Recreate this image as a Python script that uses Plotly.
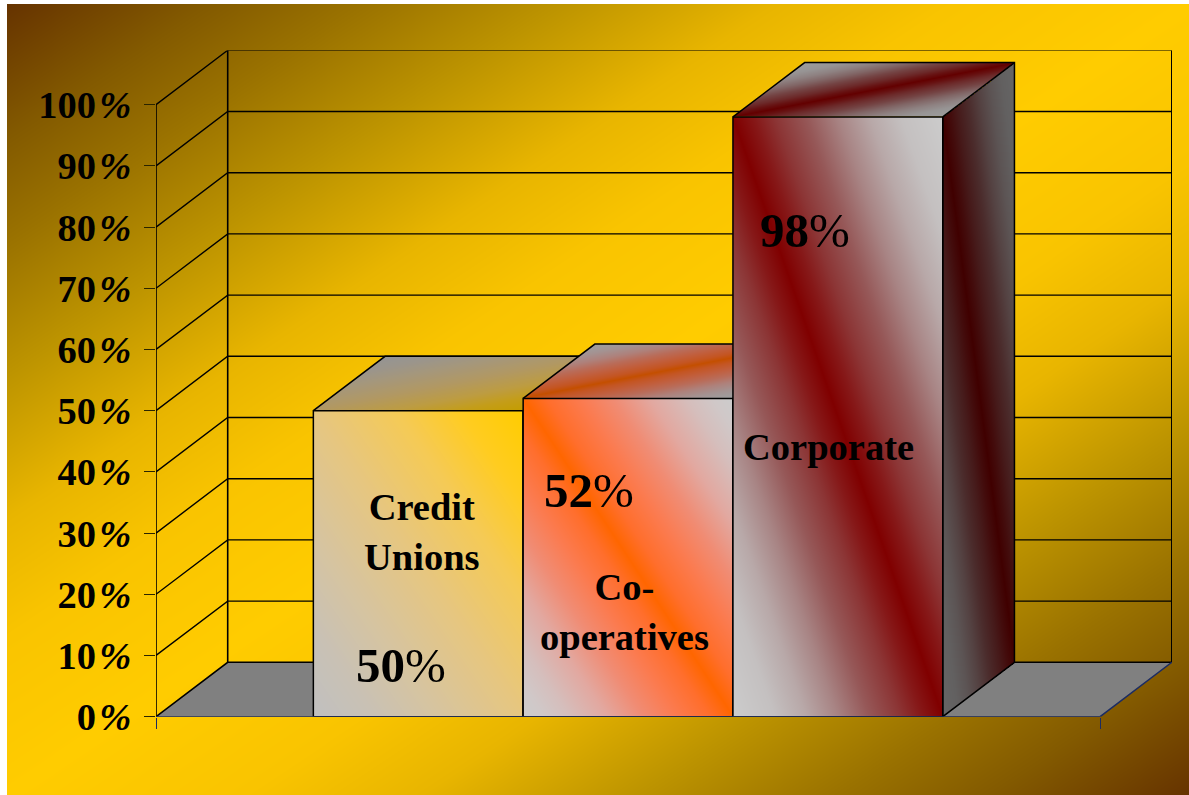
import numpy as np
import plotly.graph_objects as go

# Chart content
SERIES = ["Credit<br>Unions", "Co-<br>operatives", "Corporate"]
VALUES = [50, 52, 98]
TICK_VALUES = [0, 10, 20, 30, 40, 50, 60, 70, 80, 90, 100]

# Page and plot geometry
W, H = 1189, 795
PLOT_L, PLOT_R, PLOT_T, PLOT_B = 156.0, 1172.0, 50.5, 716.7
BAR_PX = 209.8           # one x unit is one bar width
PCT_PX = 6.12            # pixels per percentage point
GAP = 0.75               # half of the 150% gap width
DEPTH_X = 71.7 / BAR_PX  # receding offset of the 3D box
DEPTH_Y = 54.4 / PCT_PX
X_END = GAP * 2 + len(VALUES)
INK = "#000000"
NAVY = "#1c2c62"
SERIF = "Liberation Serif"

# Front-face colour ramps as (position, colour); top and side faces are darker copies
CREDIT_RAMP = [(0, "#ffcc00"), (0.15, "#ffcc20"), (0.3, "#f5ca55"), (0.5, "#e6c680"),
               (0.7, "#d6c4a0"), (0.85, "#c9c1b4"), (1, "#c0c0c0")]
COOP_RAMP = [(0, "#ff6600"), (0.11, "#ff6e2c"), (0.27, "#fb7b50"), (0.43, "#f08c74"),
             (0.6, "#e2a8a0"), (0.78, "#d5bebc"), (0.9, "#d0c8c8"), (1, "#cccccc")]
CORP_RAMP = [(0, "#800000"), (0.1, "#861818"), (0.2, "#8c3535"), (0.35, "#965858"),
             (0.5, "#a88484"), (0.65, "#b8a8a8"), (0.8, "#c4c0c0"), (1, "#cccccc")]
FACE_STYLES = [("blend", CREDIT_RAMP), ("band", COOP_RAMP), ("band", CORP_RAMP)]
TOP_SHADE = 0.77
SIDE_SHADE = 0.5


def darker(stops, factor):
    out = []
    for p, c in stops:
        rgb = [int(c[k:k + 2], 16) * factor for k in (1, 3, 5)]
        out.append([p, f"rgb({rgb[0]:.0f},{rgb[1]:.0f},{rgb[2]:.0f})"])
    return out


def pixel_grid(x_lo, x_hi, y_lo, y_hi):
    """Cell centres in data units, roughly one cell per screen pixel."""
    nx = int(round((x_hi - x_lo) * BAR_PX))
    ny = int(round((y_hi - y_lo) * PCT_PX))
    xs = x_lo + (np.arange(nx) + 0.5) * (x_hi - x_lo) / nx
    ys = y_lo + (np.arange(ny) + 0.5) * (y_hi - y_lo) / ny
    return xs, ys


def shade(kind, u, v):
    """Diagonal fill parameter on a face; u runs left-right, v runs top-bottom."""
    t = np.abs(u - v) if kind == "band" else (1 - u + v) / 2
    return np.where((u < 0) | (u > 1) | (v < 0) | (v > 1), np.nan, t)


def face(xs, ys, z, colours, axes):
    return go.Heatmap(
        x=xs, y=ys, z=z, zmin=0, zmax=1, zsmooth=False, showscale=False, hoverinfo="skip",
        colorscale=colours, xaxis=axes[0], yaxis=axes[1],
    )


def polyline(xs, ys, axes, color=INK, width=1.4, fill=None):
    return go.Scatter(
        x=xs, y=ys, mode="lines", line=dict(color=color, width=width), hoverinfo="skip",
        showlegend=False, cliponaxis=False, xaxis=axes[0], yaxis=axes[1],
        fill="toself" if fill else None, fillcolor=fill,
    )


fig = go.Figure()

# Page background: brown corners running into a yellow diagonal
bg_x = np.linspace(0, 1, 240)
bg_y = np.linspace(0, 1, 160)
bg_z = np.abs(bg_x[None, :] + (1 - bg_y[:, None]) - 1)
fig.add_trace(go.Heatmap(
    x=bg_x, y=bg_y, z=bg_z, zmin=0, zmax=1, zsmooth="best", showscale=False, hoverinfo="skip",
    colorscale=[[0, "#ffcc00"], [0.2, "#f9c400"], [0.35, "#e8b500"], [0.53, "#bd9400"],
                [0.7, "#9a7200"], [0.83, "#835a00"], [1, "#663300"]],
    xaxis="x", yaxis="y",
))

# Walls and floor
walls = ("x2", "y2")
fig.add_trace(polyline(
    [0, DEPTH_X, X_END + DEPTH_X, X_END, 0], [0, DEPTH_Y, DEPTH_Y, 0, 0], walls,
    color="#808080", width=0.1, fill="#808080",
))
for v in TICK_VALUES[1:]:
    fig.add_trace(polyline([0, DEPTH_X, X_END + DEPTH_X], [v, v + DEPTH_Y, v + DEPTH_Y], walls))
fig.add_trace(polyline([0, DEPTH_X, X_END + DEPTH_X], [0, DEPTH_Y, DEPTH_Y], walls, width=1.6))
fig.add_trace(polyline([DEPTH_X, DEPTH_X], [DEPTH_Y, 100 + DEPTH_Y], walls, width=1.6))
fig.add_trace(polyline([X_END + DEPTH_X, X_END + DEPTH_X], [DEPTH_Y, 100 + DEPTH_Y], walls, width=1.6))
fig.add_trace(polyline([0, 0], [0, 100], walls, width=1.6))

# Boxes, each on its own overlaid axes so the later box hides the earlier one
for i, (value, (kind, stops)) in enumerate(zip(VALUES, FACE_STYLES)):
    axes = (f"x{i + 3}", f"y{i + 3}")
    x0 = GAP + i
    x1 = x0 + 1

    xs, ys = pixel_grid(x0, x1, 0, value)
    X, Y = np.meshgrid(xs, ys)
    fig.add_trace(face(xs, ys, shade(kind, (X - x0) / (x1 - x0), (value - Y) / value),
                       darker(stops, 1), axes))

    xs, ys = pixel_grid(x1, x1 + DEPTH_X, 0, value + DEPTH_Y)
    X, Y = np.meshgrid(xs, ys)
    u = (X - x1) / DEPTH_X
    fig.add_trace(face(xs, ys, shade(kind, u, (value + DEPTH_Y * u - Y) / value),
                       darker(stops, SIDE_SHADE), axes))

    xs, ys = pixel_grid(x0, x1 + DEPTH_X, value, value + DEPTH_Y)
    X, Y = np.meshgrid(xs, ys)
    w = (Y - value) / DEPTH_Y
    fig.add_trace(face(xs, ys, shade(kind, X - x0 - DEPTH_X * w, w), darker(stops, TOP_SHADE), axes))

    fig.add_trace(polyline([x0, x0, x1, x1, x0], [0, value, value, 0, 0], axes, width=1.5))
    fig.add_trace(polyline(
        [x0, x0 + DEPTH_X, x1 + DEPTH_X, x1 + DEPTH_X, x1, x1],
        [value, value + DEPTH_Y, value + DEPTH_Y, DEPTH_Y, 0, value], axes, width=1.5,
    ))
    fig.add_trace(polyline([x1, x1 + DEPTH_X], [value, value + DEPTH_Y], axes, width=1.5))

# Front edge of the floor, drawn over the boxes
top_axes = (f"x{len(VALUES) + 2}", f"y{len(VALUES) + 2}")
fig.add_trace(polyline([0, X_END, X_END + DEPTH_X], [0, 0, DEPTH_Y], top_axes, color=NAVY, width=1.5))

# Axes
x_domain = [PLOT_L / W, PLOT_R / W]
y_domain = [1 - PLOT_B / H, 1 - PLOT_T / H]
x_range = [0, (PLOT_R - PLOT_L) / BAR_PX]
y_range = [0, (PLOT_B - PLOT_T) / PCT_PX]

layout = dict(
    width=W, height=H, autosize=False, margin=dict(l=0, r=0, t=0, b=0, pad=0),
    paper_bgcolor="#ffffff", plot_bgcolor="rgba(0,0,0,0)", showlegend=False,
    xaxis=dict(domain=[7 / W, 1], range=[0, 1], visible=False, fixedrange=True, automargin=False),
    yaxis=dict(domain=[0, 1 - 4 / H], range=[0, 1], visible=False, fixedrange=True, automargin=False),
    xaxis2=dict(
        domain=x_domain, range=x_range, anchor="y2", showgrid=False, zeroline=False, showline=False,
        tickmode="array", tickvals=[0, X_END], ticktext=["", ""], ticks="outside", ticklen=11,
        tickwidth=1.2, tickcolor=NAVY, fixedrange=True, automargin=False,
    ),
    yaxis2=dict(
        domain=y_domain, range=y_range, anchor="x2", showgrid=False, zeroline=False, showline=False,
        tickmode="array", tickvals=TICK_VALUES,
        ticktext=[f"<b>{v}\u200a<i>%</i></b>" for v in TICK_VALUES],
        ticks="outside", ticklen=11, tickwidth=1.2, tickcolor="#2a2400", ticklabelstandoff=5,
        tickfont=dict(family=SERIF, size=38.5, color="#000000"), fixedrange=True, automargin=False,
    ),
)
for i in range(len(VALUES)):
    n = i + 3
    layout[f"xaxis{n}"] = dict(domain=x_domain, range=x_range, anchor=f"y{n}", visible=False,
                               fixedrange=True, automargin=False)
    layout[f"yaxis{n}"] = dict(domain=y_domain, range=y_range, anchor=f"x{n}", visible=False,
                               fixedrange=True, automargin=False)
fig.update_layout(**layout)

# Labels written on the boxes
NAME_ANCHORS = [(1.268, 30.2), (2.231, 17.1), (3.205, 44.1)]
VALUE_ANCHORS = [(1.170, 8.4), (2.064, 36.9), (3.093, 79.4)]
for name, value, name_at, value_at in zip(SERIES, VALUES, NAME_ANCHORS, VALUE_ANCHORS):
    lines = "<br>".join(f"<b>{part}</b>" for part in name.split("<br>"))
    fig.add_annotation(
        x=name_at[0], y=name_at[1], xref=top_axes[0], yref=top_axes[1], text=lines, showarrow=False,
        font=dict(family=SERIF, size=38.5, color="#000000"), align="center",
    )
    fig.add_annotation(
        x=value_at[0], y=value_at[1], xref=top_axes[0], yref=top_axes[1],
        text=f"<b>{value}</b>%", showarrow=False,
        font=dict(family=SERIF, size=49, color="#000000"),
    )

fig.write_html("out.html", config={"displayModeBar": False})
